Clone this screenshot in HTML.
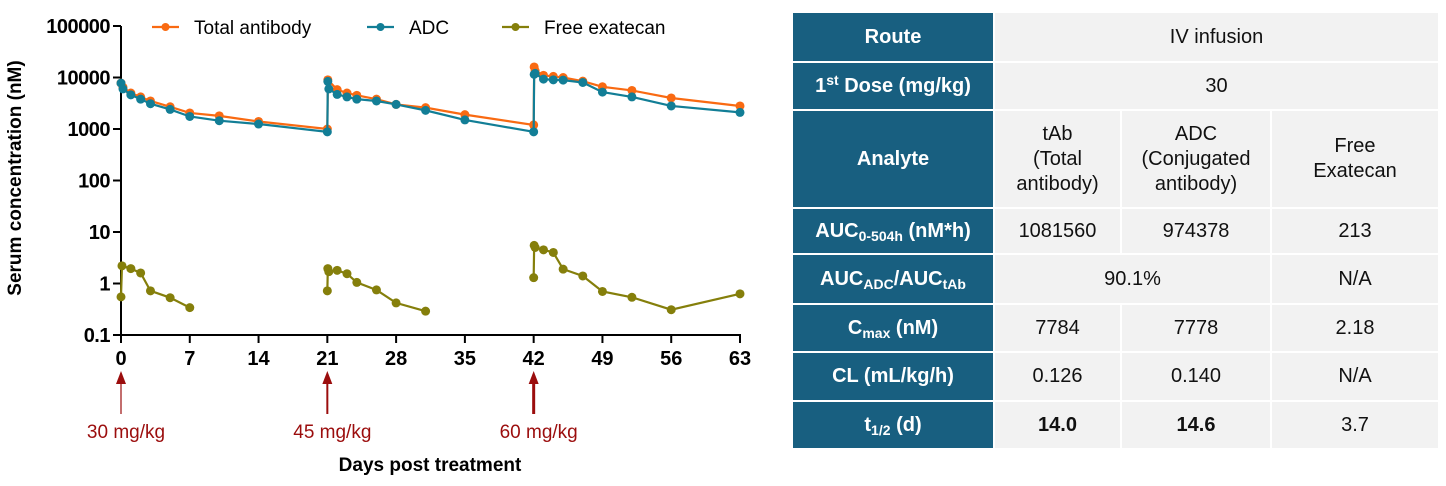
<!DOCTYPE html>
<html><head><meta charset="utf-8">
<style>
body{margin:0;background:#fff;width:1446px;height:486px;overflow:hidden;position:relative;font-family:"Liberation Sans",Arial,sans-serif;}
svg{position:absolute;left:0;top:0}
.c{position:absolute;display:flex;align-items:center;justify-content:center;text-align:center;box-sizing:border-box;font-size:20px;color:#111;line-height:1.25;}
.h{background:#185f80;color:#fff;font-weight:bold;}
.v{background:#f2f2f2;}
sub,sup{font-size:14px;line-height:0;}
sub{vertical-align:-4px}
sup{vertical-align:7px}
</style></head><body>
<svg id="chart" width="780" height="486"></svg>
<div id="tbl"></div>
<script>
const taX=[0,0.2,1,2,3,5,7,10,14,21,21.05,22,23,24,26,28,31,35,42,42.05,42.15,43,44,45,47,49,52,56,63];
const taY=[7784,6500,5000,4200,3500,2700,2050,1800,1400,1000,9000,5800,5000,4500,3800,3000,2600,1900,1200,16000,13500,11000,10500,10000,8500,6600,5600,4000,2800];
const adcX=[0,0.2,1,2,3,5,7,10,14,21,21.05,21.15,22,23,24,26,28,31,35,42,42.05,42.15,43,44,45,47,49,52,56,63];
const adcY=[7778,6000,4600,3800,3100,2400,1750,1450,1250,880,8400,6000,4700,4200,3800,3500,3000,2300,1500,880,11500,12000,9300,9000,8900,8000,5200,4200,2800,2100];
const feSeg1X=[0,0.1,1,2,3,5,7];
const feSeg1Y=[0.55,2.2,1.95,1.6,0.72,0.53,0.34];
const feSeg2X=[21,21.05,21.15,22,23,24,26,28,31];
const feSeg2Y=[0.72,1.95,1.7,1.8,1.55,1.05,0.75,0.42,0.29];
const feSeg3X=[42,42.05,42.15,43,44,45,47,49,52,56,63];
const feSeg3Y=[1.3,5.5,5.0,4.5,4.0,1.9,1.4,0.7,0.54,0.31,0.63];
const xTicks=[0,7,14,21,28,35,42,49,56,63];
const yTicks=[0.1,1,10,100,1000,10000,100000];
const yTickLabels=["0.1","1","10","100","1000","10000","100000"];
const doseDays=[0,21,42];
const doseLabels=["30 mg/kg","45 mg/kg","60 mg/kg"];

const NS="http://www.w3.org/2000/svg";
const svg=document.getElementById('chart');
const X=d=>121+d*(619/63);
const Y=v=>335-(Math.log10(v)+1)*51.5;
function mk(t,a,p){const e=document.createElementNS(NS,t);for(const k in a)e.setAttribute(k,a[k]);(p||svg).appendChild(e);return e;}

let ax=mk('line',{x1:121,y1:Y(100000),x2:121,y2:335,stroke:'#000','stroke-width':2});


ax=mk('line',{x1:121,y1:335,x2:741,y2:335,stroke:'#000','stroke-width':2});


yTicks.forEach((v,i)=>{
  mk('line',{x1:113,x2:121,y1:Y(v),y2:Y(v),stroke:'#000','stroke-width':2});
  const t=mk('text',{x:110,y:Y(v)+7,'text-anchor':'end','font-size':20,'font-weight':'bold',fill:'#000','letter-spacing':'-0.5'});
  t.textContent=yTickLabels[i];
  
  
});
xTicks.forEach(d=>{
  mk('line',{x1:X(d),x2:X(d),y1:335,y2:343,stroke:'#000','stroke-width':2});
  const t=mk('text',{x:X(d),y:365,'text-anchor':'middle','font-size':20,'font-weight':'bold',fill:'#000'});
  t.textContent=d;
  
  
});
let tt=mk('text',{x:21,y:178,'text-anchor':'middle','font-size':19,'font-weight':'bold',fill:'#000',transform:'rotate(-90 21 178)'});
tt.textContent='Serum concentration (nM)';


tt=mk('text',{x:430,y:471,'text-anchor':'middle','font-size':19,'font-weight':'bold',fill:'#000'});
tt.textContent='Days post treatment';



function series(xs,ys,col,name){
  const g=mk('g',{});
  
  
  mk('polyline',{points:xs.map((x,i)=>X(x)+','+Y(ys[i])).join(' '),fill:'none',stroke:col,'stroke-width':2.2},g);
  xs.forEach((x,i)=>{const c=mk('circle',{cx:X(x),cy:Y(ys[i]),r:4.5,fill:col},g);
    
    });
}
series(taX,taY,'#f96a12','total-antibody-series');
series(adcX,adcY,'#127e96','adc-series');
series(feSeg1X,feSeg1Y,'#857f0b','free-exatecan-dose1');
series(feSeg2X,feSeg2Y,'#857f0b','free-exatecan-dose2');
series(feSeg3X,feSeg3Y,'#857f0b','free-exatecan-dose3');

[['Total antibody','#f96a12',152],['ADC','#127e96',367],['Free exatecan','#857f0b',502]].forEach(L=>{
  const g=mk('g',{});
  
  
  mk('line',{x1:L[2],x2:L[2]+27,y1:27,y2:27,stroke:L[1],'stroke-width':2.2},g);
  mk('circle',{cx:L[2]+13.5,cy:27,r:4,fill:L[1]},g);
  const t=mk('text',{x:L[2]+42,y:34,'font-size':19,fill:'#000'},g);t.textContent=L[0];
});

doseDays.forEach((d,i)=>{
  const g=mk('g',{});
  
  
  const w=[1.2,2,3][i];
  mk('line',{x1:X(d),x2:X(d),y1:380,y2:414,stroke:'#9b0d0d','stroke-width':w},g);
  mk('polygon',{points:`${X(d)-5},384 ${X(d)+5},384 ${X(d)},371`,fill:'#9b0d0d'},g);
  const t=mk('text',{x:X(d)+5,y:438,'text-anchor':'middle','font-size':19,fill:'#9b0d0d'},g);t.textContent=doseLabels[i];
});

const tbl=document.getElementById('tbl');
const cols=[793,993,1120,1270,1438];
const rows=[13,61,109,207,253,303,351,400,448];
function cell(c0,c1,r,html,cls,name){
  const d=document.createElement('div');
  d.className='c '+cls;
  d.style.left=(cols[c0]+(c0?2:0))+'px';d.style.width=(cols[c1]-cols[c0]-(c0?2:0))+'px';
  d.style.top=(rows[r]+(r?2:0))+'px';d.style.height=(rows[r+1]-rows[r]-(r?2:0))+'px';
  d.innerHTML='<span>'+html+'</span>';
  
  
  tbl.appendChild(d);
}
cell(0,1,0,'Route','h','route-header');cell(1,4,0,'IV infusion','v','route-value');
cell(0,1,1,'1<sup>st</sup>&nbsp;Dose (mg/kg)','h','dose-header');cell(1,4,1,'30','v','dose-value');
cell(0,1,2,'Analyte','h','analyte-header');
cell(1,2,2,'tAb<br>(Total<br>antibody)','v','analyte-tab');
cell(2,3,2,'ADC<br>(Conjugated<br>antibody)','v','analyte-adc');
cell(3,4,2,'Free<br>Exatecan','v','analyte-free');
cell(0,1,3,'AUC<sub>0-504h</sub>&nbsp;(nM*h)','h','auc-header');
cell(1,2,3,'1081560','v','auc-tab');cell(2,3,3,'974378','v','auc-adc');cell(3,4,3,'213','v','auc-free');
cell(0,1,4,'AUC<sub>ADC</sub>/AUC<sub>tAb</sub>','h','auc-ratio-header');
cell(1,3,4,'90.1%','v','auc-ratio-value');cell(3,4,4,'N/A','v','auc-ratio-free');
cell(0,1,5,'C<sub>max</sub>&nbsp;(nM)','h','cmax-header');
cell(1,2,5,'7784','v','cmax-tab');cell(2,3,5,'7778','v','cmax-adc');cell(3,4,5,'2.18','v','cmax-free');
cell(0,1,6,'CL (mL/kg/h)','h','cl-header');
cell(1,2,6,'0.126','v','cl-tab');cell(2,3,6,'0.140','v','cl-adc');cell(3,4,6,'N/A','v','cl-free');
cell(0,1,7,'t<sub>1/2</sub>&nbsp;(d)','h','half-life-header');
cell(1,2,7,'<b>14.0</b>','v','half-life-tab');cell(2,3,7,'<b>14.6</b>','v','half-life-adc');cell(3,4,7,'3.7','v','half-life-free');
</script>
</body></html>
